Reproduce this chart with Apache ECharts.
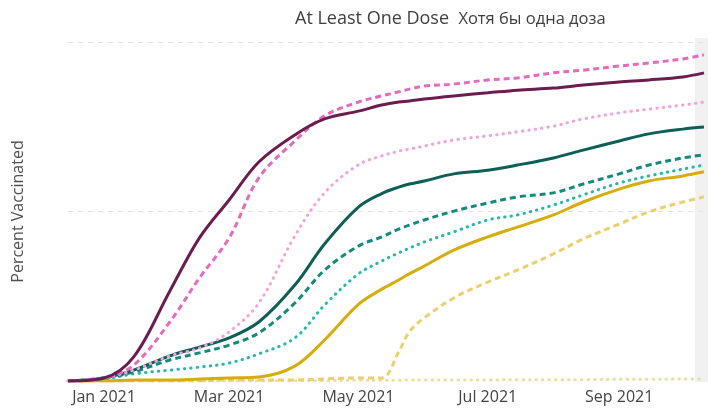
<!DOCTYPE html>
<html>
<head>
<meta charset="utf-8">
<script src="https://cdn.jsdelivr.net/npm/echarts@6/dist/echarts.min.js"></script>
<style>
html,body{margin:0;padding:0;background:#fff;}
#chart{width:708px;height:411px;}
</style>
</head>
<body>
<div id="chart"></div>
<script>
// ---- data ----
const dates = ['2020-12-15','2021-01-01','2021-01-15','2021-02-01','2021-02-15','2021-03-01','2021-03-15',
  '2021-04-01','2021-04-15','2021-05-01','2021-05-12','2021-05-20','2021-05-25','2021-06-01','2021-06-15',
  '2021-07-01','2021-07-15','2021-08-01','2021-08-15','2021-09-01','2021-09-15','2021-10-01','2021-10-11'];

const age75plus  = [0, 0.9, 7.1, 26.5, 42.2, 53.4, 64.6, 72.6, 77.3, 79.6, 81.4, 82.3, 82.6, 83.2, 84.1, 85.0, 85.8, 86.4, 87.3, 88.2, 88.8, 89.7, 90.9];
const age65to74  = [0, 0.9, 4.7, 17.4, 30.4, 42.2, 59.9, 70.8, 78.2, 82.3, 84.1, 85.3, 86.1, 87.0, 87.6, 88.8, 89.4, 90.9, 91.7, 92.9, 93.8, 95.0, 96.2];
const age50to64  = [0, 0.9, 3.2, 7.4, 9.7, 14.5, 23.0, 42.8, 55.5, 63.8, 66.4, 67.8, 68.4, 69.3, 71.1, 72.3, 73.5, 75.2, 77.3, 79.1, 80.2, 81.4, 82.3];
const age40to49  = [0, 0.9, 3.2, 7.4, 10.0, 12.7, 17.4, 28.3, 40.4, 51.3, 55.3, 57.2, 58.1, 59.0, 61.1, 62.2, 63.7, 65.8, 68.1, 70.8, 72.9, 74.3, 74.9];
const age30to39  = [0, 0.9, 2.7, 6.2, 8.3, 10.6, 14.2, 23.0, 32.7, 39.8, 42.5, 44.8, 46.0, 47.5, 50.1, 52.5, 54.3, 55.5, 58.1, 61.1, 63.7, 65.8, 66.7];
const age25to29  = [0, 0.6, 2.1, 3.2, 4.1, 5.3, 8.0, 12.7, 22.4, 31.6, 35.4, 37.8, 39.2, 41.0, 44.0, 47.5, 49.0, 51.9, 54.9, 58.4, 60.5, 62.5, 63.7];
const age18to24  = [0, 0, 0.3, 0.3, 0.6, 0.9, 1.2, 4.4, 12.1, 22.6, 27.1, 29.8, 31.6, 33.9, 38.6, 42.5, 45.4, 49.0, 52.8, 56.6, 59.0, 60.5, 61.7];
const age12to17  = [0, 0, 0, 0, 0, 0.3, 0.3, 0.3, 0.6, 0.9, 0.9, 8.6, 14.5, 18.6, 24.5, 29.2, 32.7, 37.5, 41.9, 46.3, 49.9, 52.8, 54.3];
const ageUnder12 = [0, 0, 0, 0, 0, 0, 0, 0.1, 0.1, 0.2, 0.2, 0.2, 0.3, 0.3, 0.3, 0.3, 0.4, 0.4, 0.4, 0.5, 0.5, 0.6, 0.6];

const yTicks = [0, 50, 100];
const monthNames = ['Jan','Feb','Mar','Apr','May','Jun','Jul','Aug','Sep','Oct','Nov','Dec'];

const DASH = [6, 4];
const DOT = [0.5, 6];

const seriesDefs = [
  {name: '<12',   data: ageUnder12, color: '#efdc9c', dash: DOT},
  {name: '12–17', data: age12to17,  color: '#ead06e', dash: DASH},
  {name: '18–24', data: age18to24,  color: '#d6ad0c', dash: 'solid'},
  {name: '25–29', data: age25to29,  color: '#26b8ae', dash: DOT},
  {name: '30–39', data: age30to39,  color: '#138a7c', dash: DASH},
  {name: '40–49', data: age40to49,  color: '#0d5f57', dash: 'solid'},
  {name: '50–64', data: age50to64,  color: '#f0a4db', dash: DOT},
  {name: '65–74', data: age65to74,  color: '#e36bbf', dash: DASH},
  {name: '75+',   data: age75plus,  color: '#6b1d4f', dash: 'solid'}
];

const chart = echarts.init(document.getElementById('chart'), null, {renderer: 'canvas'});
const FONT = '"Open Sans", "Noto Sans", sans-serif';

chart.setOption({
  animation: false,
  textStyle: {fontFamily: FONT},
  title: {
    text: '{a|At Least One Dose}  {b|Хотя бы одна доза}',
    left: 290, top: 5,
    textStyle: {
      fontWeight: 'normal',
      rich: {
        a: {fontSize: 18, color: '#3f3f3f', fontFamily: FONT, fontWeight: 'normal'},
        b: {fontSize: 16.5, color: '#3f3f3f', fontFamily: FONT, fontWeight: 'normal'}
      }
    }
  },
  graphic: [{
    type: 'rect', z: -1, silent: true,
    shape: {x: 695, y: 38, width: 13, height: 344},
    style: {fill: '#f1f1f1'}
  }],
  grid: {left: 68, right: 4, top: 42, bottom: 30},
  xAxis: {
    type: 'time',
    min: dates[0], max: dates[dates.length - 1],
    splitNumber: 10,
    axisLine: {show: false},
    axisTick: {show: false},
    splitLine: {show: false},
    axisLabel: {
      color: '#444', fontSize: 16, margin: 8, hideOverlap: false,
      formatter: function (val) {
        const d = new Date(val);
        if (d.getDate() === 1 && d.getMonth() % 2 === 0) {
          return monthNames[d.getMonth()] + ' ' + d.getFullYear();
        }
        return '';
      }
    }
  },
  yAxis: {
    type: 'value',
    min: yTicks[0], max: yTicks[yTicks.length - 1], interval: 50,
    name: 'Percent Vaccinated',
    nameLocation: 'middle', nameGap: 42,
    nameTextStyle: {color: '#505050', fontSize: 16, fontFamily: FONT},
    axisLine: {show: false}, axisTick: {show: false},
    axisLabel: {show: false},
    splitLine: {show: true, showMinLine: false, lineStyle: {color: '#e2e2e2', type: [5, 5], width: 1}}
  },
  series: seriesDefs.map(s => ({
    name: s.name,
    type: 'line',
    data: dates.map((d, i) => [d, s.data[i]]),
    showSymbol: false,
    smooth: 0.35,
    lineStyle: {color: s.color, width: 3, type: s.dash, cap: s.dash === DOT ? 'round' : 'butt'},
    itemStyle: {color: s.color}
  }))
});
</script>
</body>
</html>
